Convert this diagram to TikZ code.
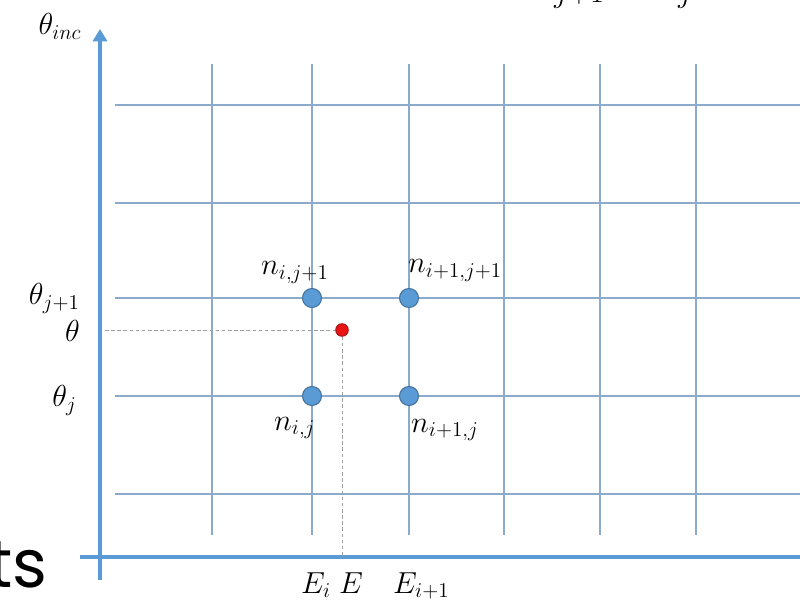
\documentclass[tikz,border=0pt]{standalone}
\usepackage{fontspec}
\usepackage{amsmath}
\usetikzlibrary{positioning,arrows.meta}
\newfontfamily\cutfont{Poppins}
\DeclareMathSizes{16.5}{16.5}{12.5}{10}
\definecolor{axisblue}{RGB}{91,155,213}
\definecolor{gridblue}{RGB}{140,170,204}
\definecolor{dotedge}{RGB}{65,113,156}
\definecolor{dotred}{RGB}{235,20,20}
\definecolor{dotrededge}{RGB}{170,20,20}

\begin{document}
\begin{tikzpicture}[every node/.style={font=\fontsize{16.5}{18}\selectfont}]
  \tikzset{
    axisline/.style={line width=2.2pt, draw=axisblue},
    gridline/.style={line width=0.6pt, draw=gridblue},
    gridnode/.style={circle, fill=axisblue, draw=dotedge, line width=0.6pt, inner sep=0pt, minimum size=0.38cm},
    querynode/.style={circle, fill=dotred, draw=dotrededge, line width=0.6pt, inner sep=0pt, minimum size=0.25cm},
    guide/.style={draw=gray!75, line width=0.5pt, dash pattern=on 2pt off 1.5pt}
  }
  \useasboundingbox (0,0) rectangle (16,11.98);
  \clip (0,0) rectangle (16,11.98);

  % grid
  \foreach \y in {9.88,7.92,6.02,4.06,2.10}
    \draw[gridline] (2.3,\y) -- (16,\y);
  \foreach \x in {4.24,6.24,8.18,10.08,12.0,13.92}
    \draw[gridline] (\x,10.7) -- (\x,1.28);

  % axes
  \coordinate (ybot) at (2.0,0.38);
  \coordinate (ytop) at (2.0,11.4);
  \coordinate (xleft) at (1.6,0.84);
  \coordinate (xright) at (16,0.84);
  \draw[axisline] (xleft) -- (xright);
  \draw[axisline, -{Triangle[width=8pt,length=7pt]}] (ybot) -- (ytop);

  % grid points and query point
  \node[gridnode] (nij1)  at (6.24,6.02) {};
  \node[gridnode] (ni1j1) at (8.18,6.02) {};
  \node[gridnode] (nij)   at (6.24,4.06) {};
  \node[gridnode] (ni1j)  at (8.18,4.06) {};
  \node[querynode] (q) at (6.84,5.38) {};

  % projections of the query point
  \coordinate (qtheta) at (2.1,5.38);
  \coordinate (qE) at (6.84,0.84);
  \draw[guide] (qtheta) -- (q);
  \draw[guide] (q) -- (qE);

  % axis labels
  \node (thinc) at (1.2,11.45) {$\theta_{inc}$};
  \node[anchor=base east] (thj1) at (1.72,5.88) {$\theta_{j+1}$};
  \node[anchor=base east] (th)   at (1.72,5.14) {$\theta$};
  \node[anchor=base east] (thj)  at (1.66,3.84) {$\theta_j$};
  \node[anchor=base west] (Ei)   at (5.90,0.12) {$E_i$};
  \node[anchor=base west] (E)    at (6.66,0.12) {$E$};
  \node[anchor=base west] (Ei1)  at (7.74,0.12) {$E_{i+1}$};

  % point labels
  \node[anchor=base west] (lij1)  at (5.10,6.48) {$n_{i,j+1}$};
  \node[anchor=base west] (li1j1) at (8.04,6.52) {$n_{i+1,j+1}$};
  \node[anchor=base west] (lij)   at (5.36,3.38) {$n_{i,j}$};
  \node[anchor=base west] (li1j)  at (8.10,3.34) {$n_{i+1,j}$};

  % cut-off text at the edges
  \node[anchor=base east, font=\cutfont\fontsize{38}{38}\selectfont] (cutts) at (1.07,0.24) {ts};
  \node[anchor=base west] (cutj1) at (10.96,11.92) {$j{+}1$};
  \node[anchor=base west] (cutj)  at (13.44,11.92) {$j$};
\end{tikzpicture}
\end{document}
